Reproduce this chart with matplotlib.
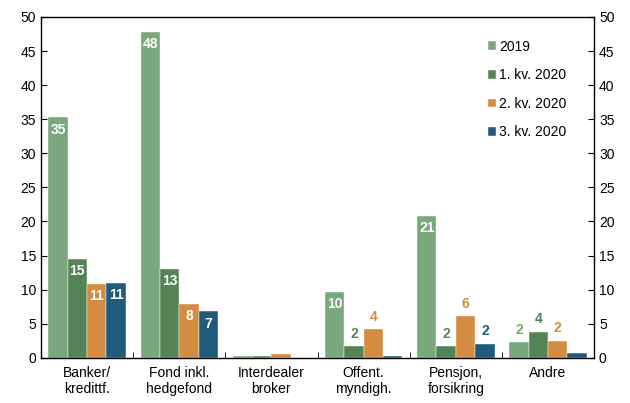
import matplotlib

matplotlib.use("Agg")
import matplotlib.pyplot as plt  # noqa: E402
import numpy as np  # noqa: E402

plt.rcParams["font.family"] = ["Liberation Sans", "DejaVu Sans"]

categories = ["Banker/\nkredittf.", "Fond inkl.\nhedgefond", "Interdealer\nbroker",
              "Offent.\nmyndigh.", "Pensjon,\nforsikring", "Andre"]
series_names = ["2019", "1. kv. 2020", "2. kv. 2020", "3. kv. 2020"]
v2019 = [35.3, 47.8, 0.3, 9.7, 20.8, 2.3]
v_q1 = [14.5, 13.1, 0.3, 1.7, 1.7, 3.8]
v_q2 = [10.9, 7.9, 0.5, 4.2, 6.1, 2.5]
v_q3 = [11.0, 6.8, 0.0, 0.3, 2.1, 0.7]
# printed labels (None = no label)
lab2019 = ["35", "48", None, "10", "21", "2"]
lab_q1 = ["15", "13", None, "2", "2", "4"]
lab_q2 = ["11", "8", None, "4", "6", "2"]
lab_q3 = ["11", "7", None, None, "2", None]

colors = ["#78a87c", "#548456", "#d48c40", "#215b7b"]
values = [v2019, v_q1, v_q2, v_q3]
labels = [lab2019, lab_q1, lab_q2, lab_q3]

fig = plt.figure(figsize=(6.3, 4.03), dpi=100)
ax = fig.add_axes([0.065, 0.112, 0.878, 0.846])

x = np.arange(len(categories))
w = 0.21
for i, (vals, labs, col, name) in enumerate(zip(values, labels, colors, series_names)):
    pos = x + (i - 1.5) * w
    ax.bar(pos, vals, width=w, color=col, edgecolor="white", linewidth=0.3, label=name)
    for p, v, lab in zip(pos, vals, labs):
        if lab is None:
            continue
        if v >= 6.5:
            ax.text(p, v - 0.8, lab, ha="center", va="top", color="white",
                    fontsize=10, fontweight="bold")
        else:
            ax.text(p, v + 0.8, lab, ha="center", va="bottom", color=col,
                    fontsize=10, fontweight="bold")

ax.set_xlim(-0.5, len(categories) - 0.5)
ax.set_ylim(0, 50)
ax.set_yticks(range(0, 51, 5))
ax.tick_params(axis="y", direction="in", length=4, labelsize=10,
               left=True, right=True, labelleft=True, labelright=True)
ax.set_xticks(x)
ax.set_xticklabels(categories, fontsize=10)
ax.tick_params(axis="x", which="major", length=0, pad=6)
ax.set_xticks(x[:-1] + 0.5, minor=True)
ax.tick_params(axis="x", which="minor", direction="in", length=4)
for s in ax.spines.values():
    s.set_linewidth(1.0)

ax.legend(loc="upper left", bbox_to_anchor=(0.785, 0.97), frameon=False,
          fontsize=10, handlelength=0.6, handleheight=0.6, handletextpad=0.2,
          labelspacing=1.05)

fig.savefig("out.png", dpi=100)
